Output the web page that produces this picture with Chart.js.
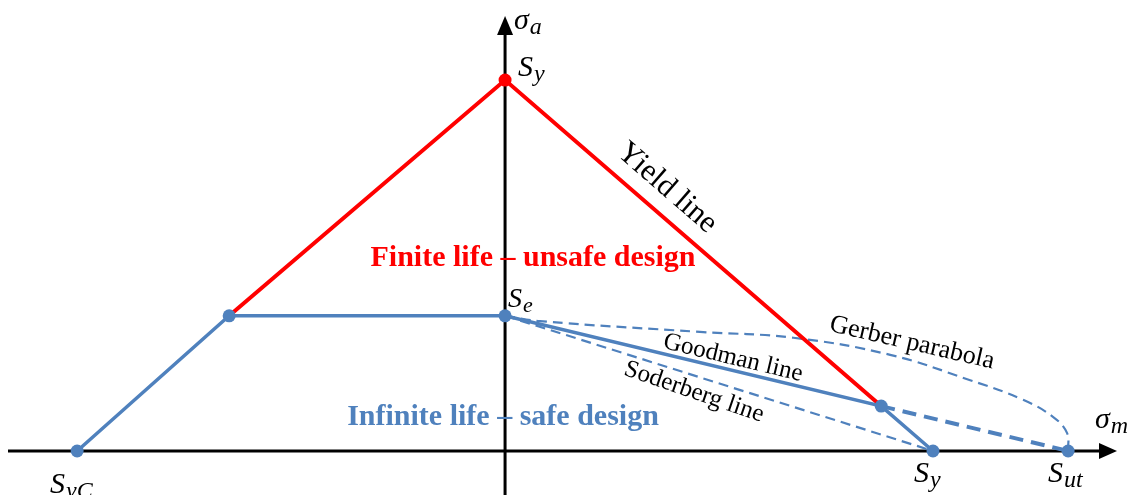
<!DOCTYPE html>
<html>
<head>
<meta charset="utf-8">
<script src="https://cdn.jsdelivr.net/npm/chart.js@4.4.1/dist/chart.umd.min.js"></script>
<style>
  html, body { margin: 0; padding: 0; background: #fff; }
  #wrap { width: 1134px; height: 495px; }
</style>
</head>
<body>
<div id="wrap"><canvas id="haigh" width="1134" height="495"></canvas></div>
<script>
// --- valores del diagrama (σm en x, σa en y, unidades relativas a Sut = 100) ---
const Sut = 100;
const SyT = 76;      // fluencia en tracción
const SyC = -76;     // fluencia en compresión
const Se = 27.7;     // límite de fatiga
const kneeX = -49;   // quiebre izquierdo de la envolvente

// Línea de fluencia (rojo)
const yieldX = [kneeX, 0, 66.8];
const yieldY = [Se, SyT, 9.2];

// Envolvente segura (azul continuo)
const safeX = [SyC, kneeX, 0, 66.8, SyT];
const safeY = [0, Se, Se, 9.2, 0];

// Prolongación de Goodman hasta Sut
const goodmanExtX = [66.8, Sut];
const goodmanExtY = [9.2, 0];

// Soderberg
const soderbergX = [0, SyT];
const soderbergY = [Se, 0];

// Parábola de Gerber
const gerberX = [0, 6.2, 34.6, 51.2, 68.4, 82.6, 92.0, 97.3, 99.8, 100];
const gerberY = [27.7, 26.6, 24.4, 23.2, 19.7, 14.5, 10.5, 7.0, 3.7, 0];

const AZUL = '#4F81BD';
const ROJO = '#FF0000';
const SERIF = '"Liberation Serif", "DejaVu Serif", serif';

const pts = (xs, ys) => xs.map((x, i) => ({ x, y: ys[i] }));

// Ejes con flecha, dibujados debajo de las curvas
const ejesPlugin = {
    id: 'ejes',
    beforeDatasetsDraw(chart) {
        const { ctx, scales: { x, y } } = chart;
        const x0 = x.getPixelForValue(0);
        const y0 = y.getPixelForValue(0);
        ctx.save();
        ctx.strokeStyle = '#000';
        ctx.fillStyle = '#000';
        ctx.lineWidth = 3;
        // eje horizontal
        ctx.beginPath();
        ctx.moveTo(8, y0);
        ctx.lineTo(1102, y0);
        ctx.stroke();
        ctx.beginPath();
        ctx.moveTo(1117, y0);
        ctx.lineTo(1099, y0 - 8);
        ctx.lineTo(1099, y0 + 8);
        ctx.closePath();
        ctx.fill();
        // eje vertical
        ctx.beginPath();
        ctx.moveTo(x0, 495);
        ctx.lineTo(x0, 32);
        ctx.stroke();
        ctx.beginPath();
        ctx.moveTo(x0, 16);
        ctx.lineTo(x0 - 8, 35);
        ctx.lineTo(x0 + 8, 35);
        ctx.closePath();
        ctx.fill();
        ctx.restore();
    }
};

// Símbolo con subíndice en cursiva
function simbolo(ctx, base, sub, px, py, size) {
    ctx.font = `italic ${size}px ${SERIF}`;
    ctx.fillText(base, px, py);
    const w = ctx.measureText(base).width;
    ctx.font = `italic ${Math.round(size * 0.8)}px ${SERIF}`;
    ctx.fillText(sub, px + w + 1, py + size * 0.18);
}

function textoRotado(ctx, txt, cx, cy, ang, font, color) {
    ctx.save();
    ctx.translate(cx, cy);
    ctx.rotate(ang * Math.PI / 180);
    ctx.font = font;
    ctx.fillStyle = color;
    ctx.textAlign = 'center';
    ctx.textBaseline = 'middle';
    ctx.fillText(txt, 0, 0);
    ctx.restore();
}

const etiquetasPlugin = {
    id: 'etiquetas',
    afterDatasetsDraw(chart) {
        const { ctx } = chart;
        ctx.save();
        ctx.fillStyle = '#000';
        ctx.textAlign = 'left';
        ctx.textBaseline = 'alphabetic';

        simbolo(ctx, 'σ', 'a', 514, 29, 30);
        simbolo(ctx, 'σ', 'm', 1095, 428, 30);
        simbolo(ctx, 'S', 'y', 518, 76, 30);
        simbolo(ctx, 'S', 'e', 508, 307, 28);
        simbolo(ctx, 'S', 'yC', 50, 493, 30);
        simbolo(ctx, 'S', 'y', 914, 482, 30);
        simbolo(ctx, 'S', 'ut', 1048, 482, 30);

        textoRotado(ctx, 'Yield line', 667, 188, 41, `31px ${SERIF}`, '#000');
        textoRotado(ctx, 'Goodman line', 733, 358, 13.5, `25px ${SERIF}`, '#000');
        textoRotado(ctx, 'Soderberg line', 694, 392, 19, `25px ${SERIF}`, '#000');
        textoRotado(ctx, 'Gerber parabola', 912, 343, 13, `26px ${SERIF}`, '#000');

        textoRotado(ctx, 'Finite life – unsafe design', 533, 258, 0, `bold 30px ${SERIF}`, ROJO);
        textoRotado(ctx, 'Infinite life – safe design', 503, 417, 0, `bold 30px ${SERIF}`, AZUL);
        ctx.restore();
    }
};

new Chart(document.getElementById('haigh'), {
    type: 'scatter',
    data: {
        datasets: [
            {
                label: 'Envolvente',
                data: pts(safeX, safeY),
                showLine: true,
                borderColor: AZUL,
                backgroundColor: AZUL,
                borderWidth: 3.5,
                pointRadius: 6.5,
                pointBorderWidth: 0
            },
            {
                label: 'Yield line',
                data: pts(yieldX, yieldY),
                showLine: true,
                borderColor: ROJO,
                backgroundColor: ROJO,
                borderWidth: 4,
                pointRadius: [0, 6.5, 0],
                pointBorderWidth: 0
            },
            {
                label: 'Goodman',
                data: pts(goodmanExtX, goodmanExtY),
                showLine: true,
                borderColor: AZUL,
                backgroundColor: AZUL,
                borderWidth: 4,
                borderDash: [14, 8],
                pointRadius: [0, 6.5],
                pointBorderWidth: 0
            },
            {
                label: 'Soderberg',
                data: pts(soderbergX, soderbergY),
                showLine: true,
                borderColor: AZUL,
                borderWidth: 2.2,
                borderDash: [10, 6],
                pointRadius: 0
            },
            {
                label: 'Gerber',
                data: pts(gerberX, gerberY),
                showLine: true,
                borderColor: AZUL,
                borderWidth: 2.2,
                borderDash: [10, 6],
                tension: 0.4,
                pointRadius: 0
            }
        ]
    },
    options: {
        responsive: false,
        animation: false,
        devicePixelRatio: 1,
        layout: { padding: 0, autoPadding: false },
        plugins: { legend: { display: false }, tooltip: { enabled: false } },
        scales: {
            x: { type: 'linear', min: -89.7, max: 111.7, display: false },
            y: { type: 'linear', min: -9.02, max: 92.4, display: false }
        }
    },
    plugins: [ejesPlugin, etiquetasPlugin]
});
</script>
</body>
</html>
